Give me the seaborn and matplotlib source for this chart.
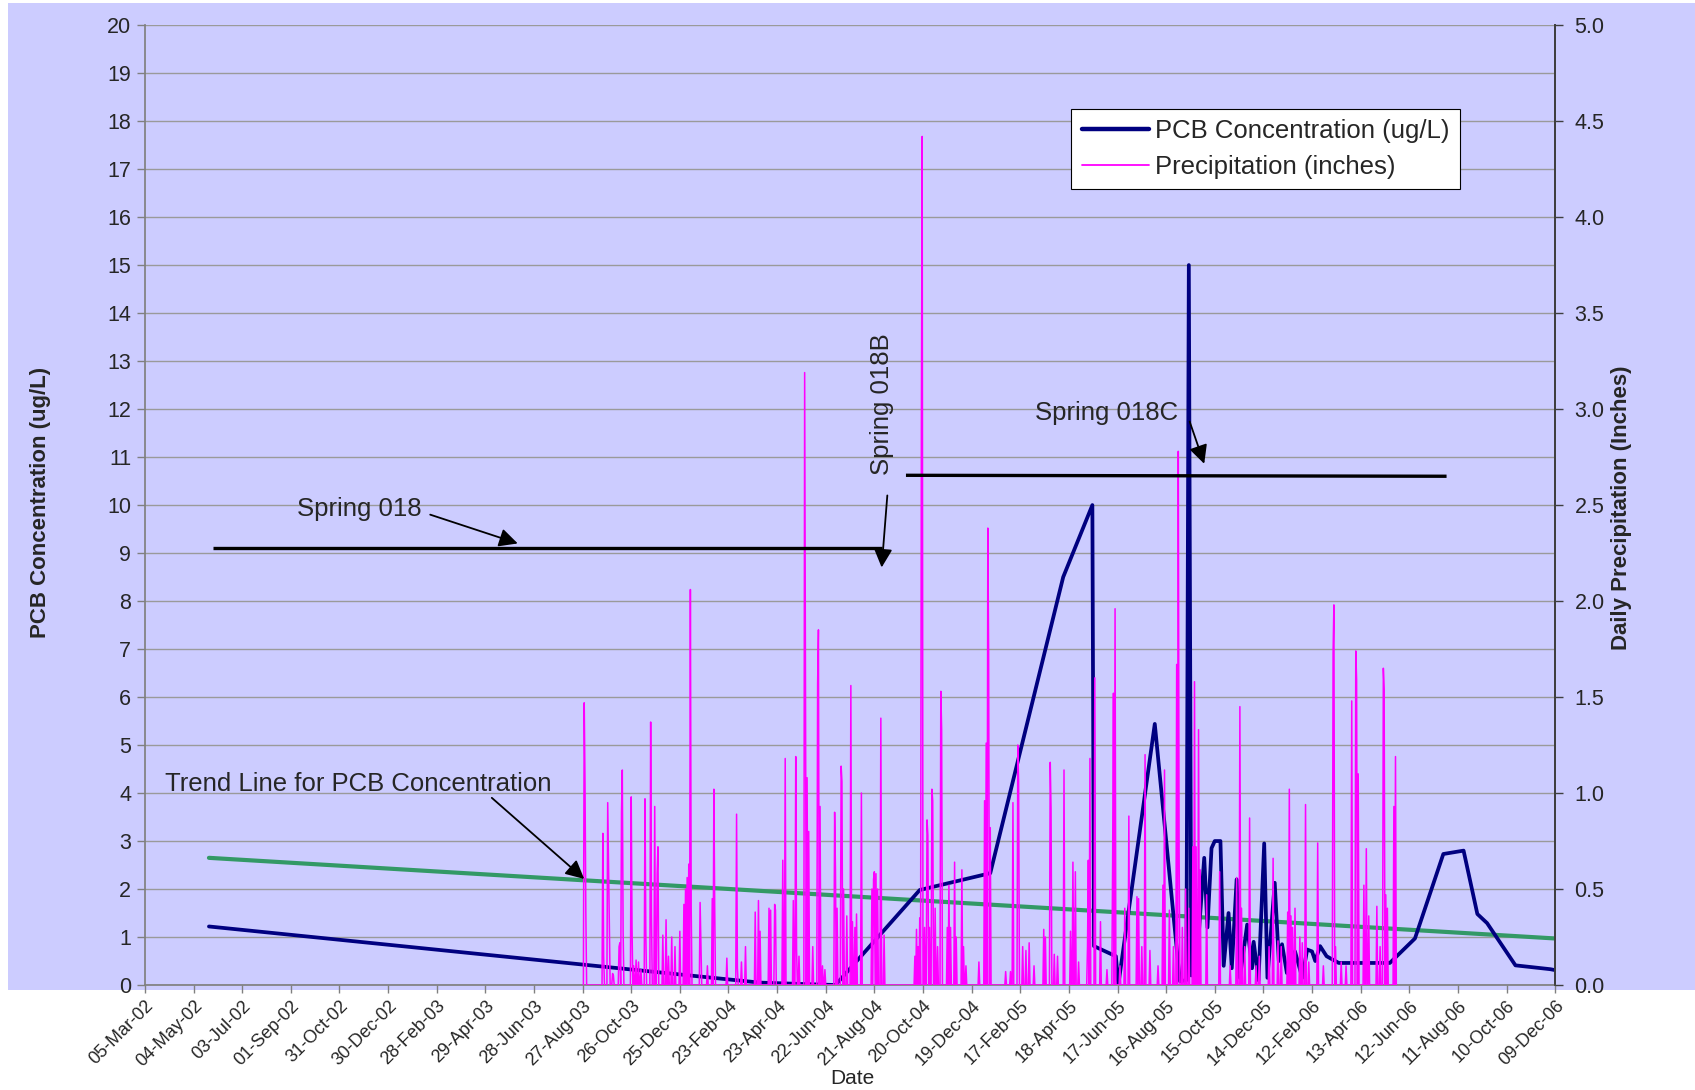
import matplotlib
matplotlib.use("Agg")
import matplotlib.pyplot as plt
import matplotlib.dates as mdates
from matplotlib.lines import Line2D
from matplotlib.patches import Rectangle
import seaborn as sns
import pandas as pd
import numpy as np

# PCB concentration (ug/L), left axis
pcb_dates = ["2002-05-23", "2004-04-02", "2004-07-04", "2004-10-16", "2005-01-11", "2005-04-11",
             "2005-05-17", "2005-05-19", "2005-06-15", "2005-06-18", "2005-08-02", "2005-09-02",
             "2005-09-10", "2005-09-13", "2005-09-16", "2005-09-22", "2005-10-02", "2005-10-06",
             "2005-10-11", "2005-10-15", "2005-10-22", "2005-10-26", "2005-11-01", "2005-11-05",
             "2005-11-11", "2005-11-15", "2005-11-24", "2005-11-30", "2005-12-02", "2005-12-08",
             "2005-12-15", "2005-12-19", "2005-12-28", "2006-01-02", "2006-01-06", "2006-01-12",
             "2006-01-22", "2006-01-31", "2006-02-06", "2006-02-12", "2006-02-16", "2006-02-22",
             "2006-03-02", "2006-03-17", "2006-03-31", "2006-05-19", "2006-06-19", "2006-07-24",
             "2006-08-18", "2006-09-04", "2006-09-16", "2006-10-21", "2006-12-03", "2006-12-09"]
pcb_values = [1.22, 0.05, 0.0, 1.98, 2.33, 8.5,
              10.0, 0.81, 0.6, 0.0, 5.44, 0.08,
              0.1, 15.0, 0.2, 0.3, 2.65, 1.2,
              2.85, 3.0, 3.0, 0.4, 1.5, 0.35,
              2.2, 0.15, 1.26, 0.35, 0.9, 0.1,
              2.95, 0.15, 2.13, 0.5, 0.85, 0.25,
              0.7, 0.15, 0.74, 0.7, 0.5, 0.81,
              0.6, 0.46, 0.46, 0.46, 0.97, 2.73,
              2.8, 1.48, 1.29, 0.41, 0.33, 0.31]

# linear trend line for PCB concentration
trend_dates = ["2002-05-23", "2006-12-09"]
trend_values = [2.65, 0.97]

# daily precipitation (inches), right axis; days not listed had no rain
precip_start = "2003-08-28"
precip_end = "2006-05-27"
precip_dates = [
    "2003-08-29", "2003-08-30", "2003-08-31", "2003-09-21", "2003-09-22", "2003-09-27", "2003-09-28",
    "2003-09-29", "2003-10-03", "2003-10-04", "2003-10-11", "2003-10-12", "2003-10-14", "2003-10-15",
    "2003-10-16", "2003-10-26", "2003-10-27", "2003-10-29", "2003-11-01", "2003-11-04", "2003-11-07",
    "2003-11-12", "2003-11-13", "2003-11-19", "2003-11-20", "2003-11-24", "2003-11-27", "2003-11-28",
    "2003-12-04", "2003-12-08", "2003-12-11", "2003-12-15", "2003-12-19", "2003-12-25", "2003-12-30",
    "2004-01-01", "2004-01-03", "2004-01-05", "2004-01-07", "2004-01-08", "2004-01-19", "2004-01-20",
    "2004-01-28", "2004-02-03", "2004-02-05", "2004-02-06", "2004-02-21", "2004-03-04", "2004-03-05",
    "2004-03-10", "2004-03-15", "2004-03-27", "2004-03-31", "2004-04-02", "2004-04-13", "2004-04-15",
    "2004-04-20", "2004-04-21", "2004-04-30", "2004-05-03", "2004-05-13", "2004-05-16", "2004-05-17",
    "2004-05-20", "2004-05-27", "2004-05-28", "2004-05-30", "2004-06-01", "2004-06-06", "2004-06-12",
    "2004-06-13", "2004-06-15", "2004-06-18", "2004-06-21", "2004-07-03", "2004-07-04", "2004-07-06",
    "2004-07-11", "2004-07-12", "2004-07-14", "2004-07-18", "2004-07-23", "2004-07-25", "2004-07-28",
    "2004-07-30", "2004-08-05", "2004-08-18", "2004-08-20", "2004-08-21", "2004-08-23", "2004-08-25",
    "2004-08-29", "2004-09-02", "2004-10-10", "2004-10-12", "2004-10-14", "2004-10-16", "2004-10-18",
    "2004-10-19", "2004-10-22", "2004-10-25", "2004-10-26", "2004-10-28", "2004-10-31", "2004-11-01",
    "2004-11-04", "2004-11-07", "2004-11-11", "2004-11-12", "2004-11-19", "2004-11-21", "2004-11-23",
    "2004-11-28", "2004-11-30", "2004-12-07", "2004-12-09", "2004-12-12", "2004-12-28", "2005-01-04",
    "2005-01-06", "2005-01-08", "2005-01-09", "2005-01-11", "2005-01-30", "2005-02-05", "2005-02-08",
    "2005-02-14", "2005-02-15", "2005-02-20", "2005-02-24", "2005-02-28", "2005-03-06", "2005-03-18",
    "2005-03-20", "2005-03-26", "2005-03-27", "2005-03-31", "2005-04-04", "2005-04-12", "2005-04-20",
    "2005-04-23", "2005-04-26", "2005-04-30", "2005-05-11", "2005-05-12", "2005-05-14", "2005-05-20",
    "2005-05-27", "2005-06-04", "2005-06-11", "2005-06-12", "2005-06-14", "2005-06-20", "2005-06-26",
    "2005-07-01", "2005-07-11", "2005-07-13", "2005-07-17", "2005-07-21", "2005-07-27", "2005-08-06",
    "2005-08-12", "2005-08-14", "2005-08-20", "2005-08-25", "2005-08-29", "2005-08-31", "2005-09-01",
    "2005-09-05", "2005-09-09", "2005-09-13", "2005-09-18", "2005-09-20", "2005-09-22", "2005-09-25",
    "2005-09-27", "2005-10-05", "2005-10-21", "2005-11-03", "2005-11-11", "2005-11-15", "2005-11-17",
    "2005-11-21", "2005-11-27", "2005-12-05", "2005-12-09", "2005-12-21", "2005-12-26", "2006-01-01",
    "2006-01-05", "2006-01-13", "2006-01-15", "2006-01-17", "2006-01-19", "2006-01-22", "2006-01-28",
    "2006-01-31", "2006-02-04", "2006-02-08", "2006-02-19", "2006-02-26", "2006-03-10", "2006-03-11",
    "2006-03-13", "2006-03-20", "2006-03-26", "2006-04-02", "2006-04-07", "2006-04-08", "2006-04-10",
    "2006-04-17", "2006-04-20", "2006-04-23", "2006-05-03", "2006-05-07", "2006-05-11", "2006-05-12",
    "2006-05-14", "2006-05-16", "2006-05-24", "2006-05-26"]
precip_inches = [
    1.47, 1.05, 0.38, 0.79, 0.15, 0.95, 0.65,
    0.32, 0.06, 0.05, 0.20, 0.22, 0.90, 1.12,
    0.28, 0.98, 0.30, 0.10, 0.13, 0.12, 0.08,
    0.97, 0.28, 1.37, 0.36, 0.93, 0.58, 0.72,
    0.26, 0.34, 0.15, 0.25, 0.20, 0.28, 0.42,
    0.50, 0.56, 0.63, 2.06, 0.40, 0.43, 0.20,
    0.10, 0.45, 1.02, 0.41, 0.14, 0.89, 0.09,
    0.12, 0.20, 0.38, 0.44, 0.28, 0.40, 0.39,
    0.42, 0.39, 0.65, 1.18, 0.44, 1.19, 0.19,
    0.15, 3.19, 1.67, 1.08, 0.80, 0.20, 1.57,
    1.85, 0.93, 0.10, 0.08, 0.90, 0.60, 0.40,
    1.14, 1.06, 0.50, 0.36, 1.56, 0.33, 0.30,
    0.37, 1.00, 0.50, 0.55, 0.59, 0.58, 0.50,
    1.39, 0.26, 0.15, 0.29, 0.20, 0.35, 2.90,
    4.42, 0.30, 0.86, 0.78, 0.30, 1.02, 0.96,
    0.40, 0.20, 1.53, 1.33, 0.30, 0.52, 0.30,
    0.64, 0.25, 0.60, 0.20, 0.10, 0.12, 0.96,
    1.26, 2.38, 1.73, 0.82, 0.07, 0.07, 0.95,
    1.25, 1.06, 0.20, 0.18, 0.22, 0.10, 0.29,
    0.25, 1.16, 0.92, 0.16, 0.15, 1.12, 0.28,
    0.64, 0.59, 0.12, 0.20, 0.65, 1.18, 1.60,
    0.33, 0.08, 0.65, 1.52, 1.96, 0.10, 0.40,
    0.88, 0.46, 0.45, 0.20, 1.20, 0.18, 0.10,
    0.52, 1.12, 0.39, 0.20, 1.67, 2.78, 0.70,
    0.30, 0.50, 0.40, 0.72, 1.58, 0.72, 1.33,
    0.60, 0.47, 0.59, 0.10, 0.56, 1.45, 0.40,
    0.20, 0.87, 0.10, 0.15, 0.20, 0.66, 0.23,
    0.20, 0.38, 1.02, 0.36, 0.30, 0.40, 0.25,
    0.22, 0.94, 0.12, 0.74, 0.10, 1.73, 1.98,
    0.20, 0.12, 0.10, 1.48, 1.74, 1.59, 1.10,
    0.52, 0.71, 0.36, 0.41, 0.20, 1.65, 1.54,
    0.47, 0.40, 0.93, 1.19]

pcb_df = pd.DataFrame({"Date": pd.to_datetime(pcb_dates), "PCB": pcb_values})
trend_df = pd.DataFrame({"Date": pd.to_datetime(trend_dates), "Trend": trend_values})
rain = pd.Series(0.0, index=pd.date_range(precip_start, precip_end, freq="D"))
rain[pd.to_datetime(precip_dates)] = precip_inches
rain_df = pd.DataFrame({"Date": rain.index, "Precip": rain.values})

x_start, x_end = pd.Timestamp("2002-03-05"), pd.Timestamp("2006-12-09")
date_ticks = pd.date_range(x_start, periods=30, freq="60D")

sns.set_theme(style="white")
plt.rcParams["font.family"] = ["Liberation Sans", "DejaVu Sans"]

lavender = "#CCCCFF"
navy = "#000080"
magenta = "#FF00FF"
green = "#339966"

fig = plt.figure(figsize=(16.95, 10.9), dpi=100)
fig.patches.append(Rectangle((0.005, 0.092), 0.995, 0.905, transform=fig.transFigure,
                             facecolor=lavender, edgecolor="none", zorder=-10))
ax = fig.add_axes([0.0855, 0.0963, 0.832, 0.8807])
ax.set_facecolor(lavender)
ax2 = ax.twinx()

sns.lineplot(data=trend_df, x="Date", y="Trend", ax=ax, color=green, linewidth=3.0)
sns.lineplot(data=pcb_df, x="Date", y="PCB", ax=ax, color=navy, linewidth=2.7)
sns.lineplot(data=rain_df, x="Date", y="Precip", ax=ax2, color=magenta, linewidth=1.1)

ax.set_xlim(x_start, x_end)
ax.set_ylim(0, 20)
ax2.set_ylim(0, 5)
ax.set_yticks(range(0, 21))
ax2.set_yticks(np.arange(0, 5.01, 0.5))
ax2.yaxis.set_major_formatter(matplotlib.ticker.FormatStrFormatter("%.1f"))
ax.set_xticks(date_ticks)
ax.xaxis.set_major_formatter(mdates.DateFormatter("%d-%b-%y"))
for lab in ax.get_xticklabels():
    lab.set_rotation(45)
    lab.set_ha("right")
    lab.set_va("top")
    lab.set_rotation_mode("anchor")

ax.yaxis.grid(True, color="#9a9a9a", linewidth=1.0)
ax.xaxis.grid(False)
ax.set_axisbelow(True)

for a in (ax, ax2):
    a.spines["top"].set_visible(False)
    a.set_xlabel("")
    a.set_ylabel("")
ax.spines["left"].set_color("#808080")
ax.spines["bottom"].set_color("#808080")
ax2.spines["right"].set_color("#404040")
for s in ("left", "bottom"):
    ax2.spines[s].set_visible(False)
ax2.spines["right"].set_visible(True)

ax.tick_params(axis="y", direction="out", length=6, width=1, color="#808080",
               labelsize=15.5, pad=4, left=True)
ax.tick_params(axis="x", direction="out", length=6, width=1, color="#808080",
               labelsize=13, pad=3, bottom=True)
ax2.tick_params(axis="y", direction="out", length=6, width=1, color="#404040",
                labelsize=15.5, pad=8, right=True)

fig.text(41 / 1695, 0.539, "PCB Concentration (ug/L)", rotation=90, ha="center", va="center",
         fontsize=16, fontweight="bold")
fig.text(1622 / 1695, 0.534, "Daily Precipitation (Inches)", rotation=90, ha="center",
         va="center", fontsize=16, fontweight="bold")
fig.text(852 / 1695, 0.011, "Date", ha="center", va="center", fontsize=15)

# annotations, drawn on top of every series but in PCB units
tr = ax.transData
d = lambda s: mdates.date2num(pd.Timestamp(s))
ax2.plot([d("2002-05-28"), d("2004-08-30")], [9.1, 9.1], transform=tr, color="black",
         linewidth=2.4, solid_capstyle="butt")
ax2.plot([d("2004-09-29"), d("2006-07-28")], [10.62, 10.6], transform=tr, color="black",
         linewidth=2.4, solid_capstyle="butt")

arrow = dict(arrowstyle="-|>", color="black", lw=1.3, mutation_scale=28, shrinkA=0, shrinkB=0)
ax2.text(d("2002-09-09"), 9.91, "Spring 018", transform=tr, fontsize=18.5, va="center")
ax2.annotate("", xy=(d("2003-06-08"), 9.2), xycoords=tr, xytext=(d("2003-02-20"), 9.8),
             textcoords=tr, arrowprops=arrow)
ax2.text(d("2004-08-31"), 12.1, "Spring 018B", transform=tr, fontsize=18.5, rotation=90,
         ha="center", va="center")
ax2.annotate("", xy=(d("2004-08-30"), 8.7), xycoords=tr, xytext=(d("2004-09-06"), 10.2),
             textcoords=tr, arrowprops=arrow)
ax2.text(d("2005-03-07"), 11.92, "Spring 018C", transform=tr, fontsize=18.5, va="center")
ax2.annotate("", xy=(d("2005-10-02"), 10.86), xycoords=tr, xytext=(d("2005-09-14"), 11.74),
             textcoords=tr, arrowprops=arrow)
ax2.text(d("2002-03-30"), 4.18, "Trend Line for PCB Concentration", transform=tr,
         fontsize=18.5, va="center")
ax2.annotate("", xy=(d("2003-08-29"), 2.21), xycoords=tr, xytext=(d("2003-05-07"), 3.9),
             textcoords=tr, arrowprops=arrow)

handles = [Line2D([], [], color=navy, linewidth=3.2), Line2D([], [], color=magenta, linewidth=1.3)]
leg = ax2.legend(handles, ["PCB Concentration (ug/L)", "Precipitation (inches)"],
                 loc="upper left", bbox_to_anchor=(0.657, 0.9125), borderaxespad=0,
                 fontsize=18.5, frameon=True, fancybox=False, framealpha=1, edgecolor="black",
                 facecolor="white", handlelength=2.6, handletextpad=0.25, labelspacing=0.45,
                 borderpad=0.4)
leg.get_frame().set_linewidth(0.8)

fig.savefig("out.png", dpi=100)
